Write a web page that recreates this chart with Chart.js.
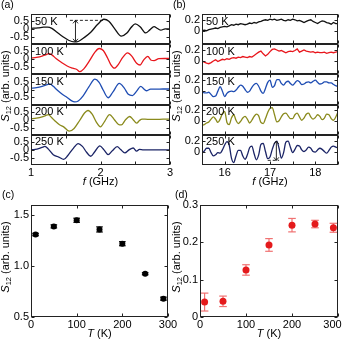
<!DOCTYPE html>
<html><head><meta charset="utf-8">
<script src="https://cdn.jsdelivr.net/npm/chart.js@4.4.1/dist/chart.umd.min.js"></script>
<style>
html,body{margin:0;padding:0;background:#fff;}
#wrap{position:relative;width:342px;height:340px;overflow:hidden;background:#fff;}
canvas{position:absolute;}
</style></head><body>
<div id="wrap">
<canvas id="ca" width="176" height="190" style="left:0px;top:0px;width:176px;height:190px"></canvas>
<canvas id="cb" width="171" height="190" style="left:171px;top:0px;width:171px;height:190px"></canvas>
<canvas id="cc" width="180" height="150" style="left:0px;top:190px;width:180px;height:150px"></canvas>
<canvas id="cd" width="171" height="150" style="left:171px;top:190px;width:171px;height:150px"></canvas>
</div>
<script>
// ---------------- DATA ----------------
const tempLabels = ['50 K', '100 K', '150 K', '200 K', '250 K'];
const colorsAB = ['#111111', '#e8161c', '#1f4db3', '#8a8a1c', '#1b2466'];

// Panel (a): f in GHz
const aF50  = [1.00,1.10,1.18,1.24,1.30,1.38,1.46,1.54,1.62,1.68,1.76,1.86,1.96,2.05,2.12,2.20,2.30,2.38,2.44,2.50,2.57,2.65,2.71,2.77,2.82,2.87,2.93,3.00];
const a50   = [0.05,0.08,0.12,0.13,0.05,-0.22,-0.48,-0.70,-0.81,-0.78,-0.55,-0.20,0.30,0.62,0.50,0.05,-0.44,-0.25,0.10,0.33,0.15,-0.24,-0.05,0.15,0.04,-0.07,0.02,0.00];
const aF100 = [1.00,1.08,1.16,1.22,1.26,1.30,1.36,1.44,1.52,1.60,1.66,1.70,1.76,1.84,1.92,1.98,2.04,2.10,2.15,2.20,2.26,2.32,2.39,2.45,2.52,2.57,2.62,2.68,2.73,2.77,2.84,2.92,3.00];
const a100  = [0.08,0.12,0.20,0.30,0.36,0.28,0.05,-0.20,-0.42,-0.56,-0.64,-0.78,-0.60,-0.10,0.45,0.68,0.55,0.10,-0.35,-0.56,-0.30,0.12,0.40,0.20,-0.25,-0.36,-0.05,0.18,-0.06,-0.08,0.04,0.05,0.05];
const aF150 = [1.00,1.08,1.16,1.23,1.27,1.32,1.38,1.45,1.52,1.58,1.63,1.68,1.75,1.83,1.92,1.98,2.04,2.11,2.18,2.27,2.34,2.40,2.46,2.52,2.58,2.62,2.66,2.72,2.80,2.90,3.00];
const a150  = [0.08,0.12,0.20,0.30,0.36,0.20,-0.05,-0.30,-0.50,-0.70,-0.78,-0.72,-0.40,0.15,0.65,0.45,-0.05,-0.52,-0.15,0.38,0.10,-0.30,-0.38,-0.10,0.20,0.05,-0.08,0.02,0.02,0.03,0.03];
const aF200 = [1.00,1.08,1.16,1.21,1.25,1.30,1.35,1.41,1.47,1.55,1.62,1.70,1.77,1.82,1.88,1.94,2.00,2.06,2.13,2.20,2.26,2.30,2.36,2.42,2.47,2.52,2.56,2.60,2.68,2.80,2.90,3.00];
const a200  = [0.06,0.10,0.18,0.26,0.32,0.12,-0.10,-0.32,-0.45,-0.72,-0.55,-0.05,0.42,0.58,0.35,-0.15,-0.45,-0.10,0.32,0.00,-0.30,-0.33,0.00,0.20,0.00,-0.22,-0.05,0.04,0.02,0.02,0.03,0.03];
const aF250 = [1.00,1.06,1.12,1.17,1.20,1.25,1.32,1.40,1.47,1.53,1.60,1.68,1.74,1.80,1.86,1.92,1.99,2.05,2.11,2.17,2.24,2.29,2.35,2.41,2.47,2.52,2.56,2.62,2.75,2.90,3.00];
const a250  = [0.00,0.03,0.10,0.18,0.22,0.05,-0.30,-0.45,-0.60,-0.35,0.05,0.40,0.22,-0.15,-0.40,-0.10,0.25,0.00,-0.30,-0.05,0.20,0.02,-0.19,0.00,0.12,-0.08,0.03,0.00,0.00,0.00,0.00];
const aXTicks = [1, 1.5, 2, 2.5, 3];
const aXTickLabels = ['1', '', '2', '', '3'];
const aYTicks = [-0.5, 0, 0.5];
const aYTickLabels = ['-0.5', '0', '0.5'];

// Panel (b): f in GHz
const bF = [15.50,15.55,15.60,15.65,15.70,15.75,15.80,15.85,15.90,15.95,16.00,16.05,16.10,16.15,16.20,16.25,16.30,16.35,16.40,16.45,16.50,16.55,16.60,16.65,16.70,16.75,16.80,16.85,16.90,16.95,17.00,17.05,17.10,17.15,17.20,17.25,17.30,17.35,17.40,17.45,17.50,17.55,17.60,17.65,17.70,17.75,17.80,17.85,17.90,17.95,18.00,18.05,18.10,18.15,18.20,18.25,18.30,18.35,18.40,18.45,18.50];
const b50  = [0.00,0.01,0.00,0.02,0.03,0.04,0.05,0.04,0.06,0.07,0.08,0.07,0.09,0.11,0.10,0.12,0.11,0.13,0.12,0.11,0.12,0.14,0.13,0.15,0.14,0.16,0.17,0.19,0.20,0.19,0.21,0.20,0.21,0.19,0.20,0.21,0.19,0.18,0.20,0.19,0.21,0.20,0.18,0.19,0.17,0.15,0.17,0.19,0.20,0.17,0.15,0.13,0.16,0.18,0.17,0.15,0.14,0.12,0.15,0.13,0.13];
const b100 = [0.00,-0.02,-0.04,-0.05,-0.03,0.00,0.02,-0.01,0.01,0.03,0.02,0.04,0.03,0.05,0.06,0.05,0.07,0.06,0.08,0.07,0.06,0.08,0.07,0.10,0.13,0.16,0.18,0.13,0.09,0.12,0.17,0.21,0.22,0.20,0.18,0.19,0.17,0.15,0.17,0.18,0.17,0.19,0.22,0.16,0.18,0.20,0.18,0.17,0.16,0.17,0.15,0.16,0.15,0.15,0.16,0.14,0.15,0.16,0.15,0.16,0.17];
const b150 = [-0.02,-0.03,-0.03,-0.02,-0.06,-0.10,-0.09,0.00,0.08,0.00,-0.10,-0.04,-0.01,0.00,-0.01,0.02,0.07,0.11,0.09,0.03,-0.02,0.00,0.07,0.12,0.14,0.09,0.00,-0.04,0.05,0.16,0.20,0.07,0.10,0.21,0.21,0.14,0.11,0.16,0.18,0.14,0.11,0.15,0.19,0.17,0.12,0.13,0.16,0.17,0.15,0.18,0.20,0.16,0.13,0.14,0.17,0.17,0.15,0.15,0.12,0.10,0.08];
const b200 = [-0.07,-0.06,-0.03,-0.01,0.04,0.08,0.04,-0.02,0.04,0.14,0.18,-0.02,-0.06,0.06,0.12,0.02,-0.04,0.00,0.06,0.09,0.04,-0.03,0.02,0.09,0.13,0.10,-0.02,-0.04,0.05,0.16,0.24,0.25,0.12,-0.01,0.01,0.08,0.14,0.15,0.10,0.05,0.05,0.12,0.15,0.08,0.02,0.06,0.13,0.15,0.08,0.04,0.07,0.12,0.09,0.03,0.06,0.13,0.12,0.05,0.02,0.08,0.17];
const b250 = [-0.03,0.01,0.06,0.06,-0.02,-0.08,-0.06,-0.02,-0.03,0.03,0.12,0.18,0.12,-0.12,-0.20,-0.08,0.02,0.02,-0.08,-0.14,-0.06,0.07,0.10,-0.04,-0.15,-0.06,0.13,0.15,0.00,-0.13,-0.10,0.04,0.15,0.19,0.06,-0.12,-0.02,0.17,0.19,0.08,-0.02,0.04,0.11,0.10,0.03,0.00,0.03,0.08,0.06,0.00,-0.01,0.03,0.06,0.04,0.00,-0.03,0.02,0.08,0.10,0.08,0.07];
const bXTicks = [15.5, 16, 16.5, 17, 17.5, 18, 18.5];
const bXTickLabels = ['', '16', '', '17', '', '18', ''];
const bYTicks = [0, 0.2];
const bYTickLabels = ['0', '0.2'];

// Arrows (data units)
const arrowA = {panel: 0, x: 1.64, yTop: 0.55, yBot: -0.80, dashY: 0.55, dashFrom: 1.56, dashTo: 2.06};
const arrowB = {panel: 4, x: 17.14, yTop: 0.19, yBot: -0.16, dashY: -0.16, dashFrom: 16.95, dashTo: 17.20};

// Panel (c)
const cT = [10, 50, 100, 150, 200, 250, 290];
const cS = [1.31, 1.39, 1.45, 1.36, 1.22, 0.925, 0.68];
const cErr = [0.012, 0.015, 0.02, 0.025, 0.02, 0.01, 0.015];
const cXTicks = [0, 100, 200, 300];
const cXTickLabels = ['0', '100', '200', '300'];
const cYTicks = [0.5, 1.0, 1.5];
const cYTickLabels = ['0.5', '1.0', '1.5'];

// Panel (d)
const dT = [10, 50, 100, 150, 200, 250, 290];
const dS = [0.040, 0.042, 0.126, 0.193, 0.246, 0.249, 0.239];
const dErr = [0.024, 0.014, 0.014, 0.017, 0.018, 0.010, 0.012];
const dXTicks = [0, 100, 200, 300];
const dXTickLabels = ['0', '100', '200', '300\u2002\u2002'];
const dYTicks = [0, 0.1, 0.2, 0.3];
const dYTickLabels = ['0', '0.1', '0.2', '0.3'];

// ---------------- DRAWING ----------------
const FF = '"Liberation Sans", Arial, Helvetica, sans-serif';
Chart.defaults.font.family = FF;
Chart.defaults.color = '#000';
const FRAME = '#222';

function line(ctx, x1, y1, x2, y2) { ctx.beginPath(); ctx.moveTo(x1, y1); ctx.lineTo(x2, y2); ctx.stroke(); }

function drawYTitle(ctx, cx, cy) {
  ctx.save();
  ctx.setTransform(0, -1, 1, 0, cx, cy);
  const fMain = '11px ' + FF, fIt = 'italic 11px ' + FF, fSub = '7.5px ' + FF;
  ctx.textBaseline = 'middle'; ctx.fillStyle = '#000'; ctx.textAlign = 'left';
  ctx.font = fIt; const w1 = ctx.measureText('S').width;
  ctx.font = fSub; const w2 = ctx.measureText('12').width;
  ctx.font = fMain; const w3 = ctx.measureText(' (arb. units)').width;
  let x = -(w1 + w2 + w3) / 2;
  ctx.font = fIt; ctx.fillText('S', x, 0); x += w1;
  ctx.font = fSub; ctx.fillText('12', x, 3); x += w2;
  ctx.font = fMain; ctx.fillText(' (arb. units)', x, 0);
  ctx.restore();
}
function drawXTitle(ctx, cx, cy, italicPart, rest) {
  ctx.save();
  ctx.setTransform(1, 0, 0, 1, 0, 0);
  const fMain = '11px ' + FF, fIt = 'italic 11px ' + FF;
  ctx.textBaseline = 'middle'; ctx.fillStyle = '#000'; ctx.textAlign = 'left';
  ctx.font = fIt; const w1 = ctx.measureText(italicPart).width;
  ctx.font = fMain; const w2 = ctx.measureText(rest).width;
  let x = cx - (w1 + w2) / 2;
  ctx.font = fIt; ctx.fillText(italicPart, x, cy); x += w1;
  ctx.font = fMain; ctx.fillText(rest, x, cy);
  ctx.restore();
}
function drawLetter(ctx, x, y, t) {
  ctx.save(); ctx.setTransform(1, 0, 0, 1, 0, 0);
  ctx.font = '10.5px ' + FF; ctx.fillStyle = '#000';
  ctx.textBaseline = 'middle'; ctx.textAlign = 'left'; ctx.fillText(t, x, y); ctx.restore();
}
function arrowHead(ctx, x, y, dir) {
  ctx.beginPath(); ctx.moveTo(x - 2.5, y + dir * 3); ctx.lineTo(x, y); ctx.lineTo(x + 2.5, y + dir * 3); ctx.stroke();
}

function frameAndTicks(ctx, L, R, T, B, xs, xTicks, ys, yTicks) {
  ctx.save();
  ctx.strokeStyle = FRAME; ctx.lineWidth = 1;
  const l = Math.round(L) + 0.5, r = Math.round(R) - 0.5, t = Math.round(T) + 0.5, b = Math.round(B) - 0.5;
  ctx.strokeRect(l, t, r - l, b - t);
  xTicks.forEach(v => {
    const px = Math.round(xs.getPixelForValue(v)) + 0.5;
    line(ctx, px, b, px, b - 3); line(ctx, px, t, px, t + 3);
  });
  yTicks.forEach(v => {
    const py = Math.round(ys.getPixelForValue(v)) + 0.5;
    line(ctx, l, py, l + 3, py); line(ctx, r, py, r - 3, py);
  });
  ctx.restore();
}

const hiddenGrid = {display: false, drawTicks: false, tickLength: 0};

function makeStacked(id, o) {
  const scales = {
    x: {
      type: 'linear', position: 'bottom', min: o.xMin, max: o.xMax,
      grid: hiddenGrid, border: {display: false},
      afterBuildTicks: s => { s.ticks = o.xTicks.map(v => ({value: v})); },
      ticks: {autoSkip: false, maxRotation: 0, padding: 1, color: '#000', font: {size: 11, family: FF},
        callback: (v, i) => o.xLabels[i]},
      afterFit: s => { s.height = 25; s.paddingLeft = 0; s.paddingRight = 0; }
    }
  };
  o.series.forEach((s, i) => {
    scales['y' + i] = {
      type: 'linear', position: 'left', stack: 'panel', stackWeight: 1, weight: 10 - i,
      min: o.yMin, max: o.yMax,
      grid: hiddenGrid, border: {display: false},
      afterBuildTicks: sc => { sc.ticks = o.yTicks.map(v => ({value: v})); },
      ticks: {autoSkip: false, padding: 2, color: '#000', font: {size: 11, family: FF},
        callback: (v, k) => o.yLabels[k]},
      afterFit: sc => { sc.width = 31; sc.paddingTop = 0; sc.paddingBottom = 0; }
    };
  });
  const datasets = o.series.map((s, i) => ({
    data: s.x.map((x, j) => ({x: x, y: s.y[j]})),
    yAxisID: 'y' + i, borderColor: colorsAB[i], borderWidth: 1.3, pointRadius: 0, fill: false,
    tension: o.smooth[i] ? 0.4 : 0, cubicInterpolationMode: o.smooth[i] ? 'monotone' : 'default'
  }));
  new Chart(document.getElementById(id), {
    type: 'line',
    data: {datasets},
    options: {
      responsive: false, animation: false, devicePixelRatio: 1, events: [],
      layout: {padding: {left: 0, right: o.padRight, top: 14, bottom: 0}},
      plugins: {legend: {display: false}, tooltip: {enabled: false}},
      scales
    },
    plugins: [{
      id: 'deco',
      afterDraw(chart) {
        const ctx = chart.ctx, ca = chart.chartArea, xs = chart.scales.x;
        o.series.forEach((s, i) => {
          const ys = chart.scales['y' + i];
          frameAndTicks(ctx, ca.left, ca.right, ys.top, ys.bottom, xs, o.xTicks, ys, o.yTicks);
          ctx.save(); ctx.font = '11px ' + FF; ctx.fillStyle = '#000'; ctx.textBaseline = 'top'; ctx.textAlign = 'left';
          ctx.fillText(tempLabels[i], ca.left + 4, ys.top + 2); ctx.restore();
        });
        const a = o.arrow, ys = chart.scales['y' + a.panel];
        const ax = xs.getPixelForValue(a.x), yt = ys.getPixelForValue(a.yTop), yb = ys.getPixelForValue(a.yBot);
        ctx.save(); ctx.strokeStyle = '#111'; ctx.lineWidth = 0.9;
        line(ctx, ax, yt, ax, yb); arrowHead(ctx, ax, yt, 1); arrowHead(ctx, ax, yb, -1);
        ctx.setLineDash([3, 2]);
        const dy = ys.getPixelForValue(a.dashY);
        line(ctx, xs.getPixelForValue(a.dashFrom), dy, xs.getPixelForValue(a.dashTo), dy);
        ctx.restore();
        drawYTitle(ctx, 6, 86);
        drawXTitle(ctx, (ca.left + ca.right) / 2, 182, 'f', ' (GHz)');
        drawLetter(ctx, o.letterX, 5, o.letter);
      }
    }]
  });
}

function makeScatter(id, o) {
  new Chart(document.getElementById(id), {
    type: 'scatter',
    data: {datasets: [{
      data: o.T.map((t, i) => ({x: t, y: o.S[i]})),
      pointRadius: o.radius, pointBackgroundColor: o.color, pointBorderWidth: 0, borderWidth: 0,
      pointStyle: 'circle', clip: false
    }]},
    options: {
      responsive: false, animation: false, devicePixelRatio: 1, events: [],
      layout: {padding: {left: 0, right: o.padRight, top: 15, bottom: 0}},
      plugins: {legend: {display: false}, tooltip: {enabled: false}},
      scales: {
        x: {type: 'linear', position: 'bottom', min: 0, max: 300,
          grid: hiddenGrid, border: {display: false},
          afterBuildTicks: s => { s.ticks = o.xTicks.map(v => ({value: v})); },
          ticks: {autoSkip: false, maxRotation: 0, padding: 1, color: '#000', font: {size: 11, family: FF},
            callback: (v, i) => o.xLabels[i]},
          afterFit: s => { s.height = 23; s.paddingLeft = 0; s.paddingRight = 0; }},
        y: {type: 'linear', position: 'left', min: o.yMin, max: o.yMax,
          grid: hiddenGrid, border: {display: false},
          afterBuildTicks: s => { s.ticks = o.yTicks.map(v => ({value: v})); },
          ticks: {autoSkip: false, padding: 2, color: '#000', font: {size: 11, family: FF},
            callback: (v, i) => o.yLabels[i]},
          afterFit: s => { s.width = o.yWidth; s.paddingTop = 0; s.paddingBottom = 0; }}
      }
    },
    plugins: [{
      id: 'errbars',
      beforeDatasetsDraw(chart) {
        const ctx = chart.ctx, xs = chart.scales.x, ys = chart.scales.y;
        ctx.save(); ctx.strokeStyle = o.errColor; ctx.lineWidth = 1.2;
        o.T.forEach((t, i) => {
          const px = xs.getPixelForValue(t);
          const p1 = ys.getPixelForValue(o.S[i] + o.E[i]), p2 = ys.getPixelForValue(o.S[i] - o.E[i]);
          line(ctx, px, p1, px, p2);
          line(ctx, px - o.cap, p1, px + o.cap, p1);
          line(ctx, px - o.cap, p2, px + o.cap, p2);
        });
        ctx.restore();
      },
      afterDraw(chart) {
        const ctx = chart.ctx, ca = chart.chartArea;
        frameAndTicks(ctx, ca.left, ca.right, ca.top, ca.bottom, chart.scales.x, o.xTicks, chart.scales.y, o.yTicks);
        drawYTitle(ctx, o.titleX, 67);
        drawXTitle(ctx, (ca.left + ca.right) / 2, 144, 'T', ' (K)');
        drawLetter(ctx, o.letterX, 5, o.letter);
      }
    }]
  });
}

makeStacked('ca', {
  xMin: 1, xMax: 3, xTicks: aXTicks, xLabels: aXTickLabels,
  yMin: -0.95, yMax: 0.95, yTicks: aYTicks, yLabels: aYTickLabels,
  series: [{x: aF50, y: a50}, {x: aF100, y: a100}, {x: aF150, y: a150}, {x: aF200, y: a200}, {x: aF250, y: a250}],
  smooth: [true, true, true, true, true], padRight: 6, arrow: arrowA, letter: '(a)', letterX: 1
});
makeStacked('cb', {
  xMin: 15.5, xMax: 18.5, xTicks: bXTicks, xLabels: bXTickLabels,
  yMin: -0.245, yMax: 0.305, yTicks: bYTicks, yLabels: bYTickLabels,
  series: [{x: bF, y: b50}, {x: bF, y: b100}, {x: bF, y: b150}, {x: bF, y: b200}, {x: bF, y: b250}],
  smooth: [false, false, true, true, true], padRight: 4, arrow: arrowB, letter: '(b)', letterX: 2
});
makeScatter('cc', {
  T: cT, S: cS, E: cErr, xTicks: cXTicks, xLabels: cXTickLabels, yTicks: cYTicks, yLabels: cYTickLabels,
  yMin: 0.5, yMax: 1.6, yWidth: 31, padRight: 12, radius: 3, color: '#000', errColor: '#000', cap: 3.3,
  titleX: 6, letter: '(c)', letterX: 2
});
makeScatter('cd', {
  T: dT, S: dS, E: dErr, xTicks: dXTicks, xLabels: dXTickLabels, yTicks: dYTicks, yLabels: dYTickLabels,
  yMin: 0, yMax: 0.3, yWidth: 29, padRight: 3, radius: 3.5, color: '#e41a1c', errColor: '#f07272', cap: 3.8,
  titleX: 5.5, letter: '(d)', letterX: 4
});
</script>
</body></html>
